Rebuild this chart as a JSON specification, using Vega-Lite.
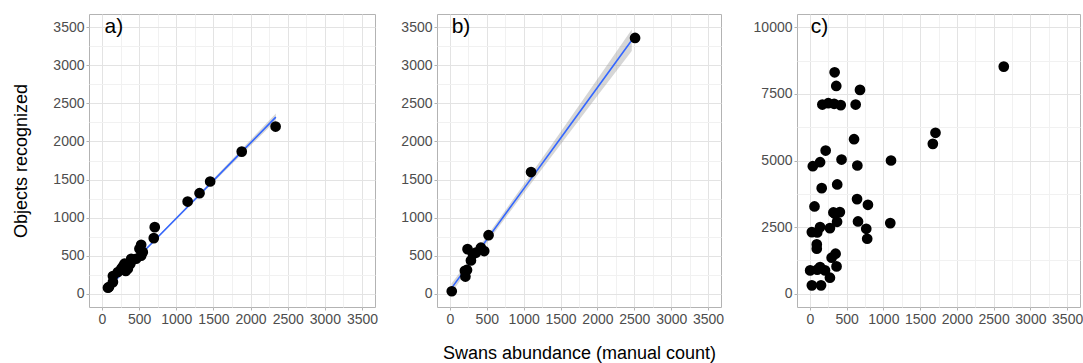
{
 "$schema": "https://vega.github.io/schema/vega-lite/v6.json",
 "padding": {"left": 12, "top": 13, "right": 0, "bottom": 0},
 "config": {
   "font": "Liberation Sans",
   "view": {"stroke": "#B3B3B3", "strokeWidth": 1},
   "axis": {"labelColor": "#4D4D4D", "labelFontSize": 14, "titleFontSize": 18, "titleFontWeight": "normal", "titleColor": "#000000", "domain": false, "tickColor": "#B3B3B3", "tickSize": 3, "labelPadding": 2, "gridColor": "#E3E3E3", "gridWidth": 1, "labelFlush": false, "labelOverlap": false, "format": "d"}
 },
 "datasets": {
   "a_pts": [
     {"x": 80, "y": 79}, {"x": 94, "y": 87}, {"x": 147, "y": 152}, {"x": 147, "y": 231}, {"x": 214, "y": 284},
     {"x": 259, "y": 328}, {"x": 281, "y": 358}, {"x": 303, "y": 394}, {"x": 348, "y": 328}, {"x": 320, "y": 300},
     {"x": 380, "y": 390}, {"x": 393, "y": 459}, {"x": 415, "y": 446}, {"x": 460, "y": 459}, {"x": 504, "y": 590},
     {"x": 527, "y": 500}, {"x": 549, "y": 546}, {"x": 527, "y": 643}, {"x": 697, "y": 730}, {"x": 710, "y": 874},
     {"x": 1153, "y": 1211}, {"x": 1313, "y": 1320}, {"x": 1456, "y": 1474}, {"x": 1881, "y": 1867}, {"x": 2337, "y": 2196}
   ],
   "a_fit": [
     {"x": 75, "fit": 72, "lo": 50, "hi": 94},
     {"x": 600, "fit": 593, "lo": 579, "hi": 607},
     {"x": 1200, "fit": 1189, "lo": 1172, "hi": 1206},
     {"x": 1800, "fit": 1784, "lo": 1752, "hi": 1816},
     {"x": 2340, "fit": 2320, "lo": 2272, "hi": 2368}
   ],
   "b_pts": [
     {"x": 25, "y": 32}, {"x": 210, "y": 225}, {"x": 203, "y": 300}, {"x": 232, "y": 312}, {"x": 239, "y": 585},
     {"x": 285, "y": 437}, {"x": 312, "y": 520}, {"x": 353, "y": 540}, {"x": 420, "y": 604}, {"x": 465, "y": 560},
     {"x": 524, "y": 768}, {"x": 1100, "y": 1598}, {"x": 2510, "y": 3360}
   ],
   "b_fit": [
     {"x": 20, "fit": 70, "lo": 10, "hi": 130},
     {"x": 500, "fit": 710, "lo": 665, "hi": 755},
     {"x": 1000, "fit": 1377, "lo": 1320, "hi": 1434},
     {"x": 1500, "fit": 2043, "lo": 1960, "hi": 2126},
     {"x": 2000, "fit": 2710, "lo": 2600, "hi": 2820},
     {"x": 2465, "fit": 3330, "lo": 3190, "hi": 3470}
   ],
   "c_pts": [
     {"x": 337, "y": 8312}, {"x": 359, "y": 7800}, {"x": 682, "y": 7650}, {"x": 170, "y": 7100}, {"x": 250, "y": 7150},
     {"x": 330, "y": 7130}, {"x": 420, "y": 7080}, {"x": 623, "y": 7100}, {"x": 601, "y": 5800}, {"x": 215, "y": 5375},
     {"x": 431, "y": 5037}, {"x": 646, "y": 4812}, {"x": 139, "y": 4937}, {"x": 40, "y": 4786}, {"x": 1104, "y": 5000},
     {"x": 372, "y": 4100}, {"x": 161, "y": 3962}, {"x": 63, "y": 3275}, {"x": 642, "y": 3550}, {"x": 790, "y": 3338},
     {"x": 408, "y": 3062}, {"x": 341, "y": 3000}, {"x": 320, "y": 3050}, {"x": 370, "y": 2700}, {"x": 655, "y": 2712},
     {"x": 767, "y": 2437}, {"x": 780, "y": 2062}, {"x": 1094, "y": 2650}, {"x": 27, "y": 2312}, {"x": 139, "y": 2500},
     {"x": 100, "y": 2300}, {"x": 273, "y": 2462}, {"x": 94, "y": 1850}, {"x": 94, "y": 1687}, {"x": 350, "y": 1500},
     {"x": 296, "y": 1350}, {"x": 363, "y": 1025}, {"x": 4, "y": 875}, {"x": 139, "y": 1000}, {"x": 206, "y": 875},
     {"x": 100, "y": 900}, {"x": 273, "y": 600}, {"x": 27, "y": 312}, {"x": 152, "y": 312}, {"x": 1673, "y": 5625},
     {"x": 1709, "y": 6040}, {"x": 2638, "y": 8525}
   ]
 },
 "spacing": 21,
 "hconcat": [
  {
   "width": 286, "height": 293,
   "layer": [
    {"data": {"name": "a_pts"}, "mark": {"type": "point", "opacity": 0},
     "encoding": {
      "x": {"field": "x", "type": "quantitative", "scale": {"domain": [-175, 3675], "nice": false, "zero": false}, "axis": {"orient": "top", "values": [250, 750, 1250, 1750, 2250, 2750, 3250], "grid": true, "gridColor": "#F1F1F1", "labels": false, "ticks": false, "title": null}},
      "y": {"field": "y", "type": "quantitative", "scale": {"domain": [-175, 3675], "nice": false, "zero": false}, "axis": {"orient": "right", "values": [250, 750, 1250, 1750, 2250, 2750, 3250], "grid": true, "gridColor": "#F1F1F1", "labels": false, "ticks": false, "title": null}}
     }},
    {"data": {"name": "a_fit"}, "mark": {"type": "area", "color": "#999999", "opacity": 0.4},
     "encoding": {
      "x": {"field": "x", "type": "quantitative", "scale": {"domain": [-175, 3675], "nice": false, "zero": false}, "axis": null},
      "y": {"field": "lo", "type": "quantitative", "scale": {"domain": [-175, 3675], "nice": false, "zero": false}, "axis": null},
      "y2": {"field": "hi"}
     }},
    {"data": {"name": "a_fit"}, "mark": {"type": "line", "color": "#3366FF", "strokeWidth": 1.6},
     "encoding": {
      "x": {"field": "x", "type": "quantitative", "scale": {"domain": [-175, 3675], "nice": false, "zero": false}, "axis": null},
      "y": {"field": "fit", "type": "quantitative", "scale": {"domain": [-175, 3675], "nice": false, "zero": false}, "axis": null}
     }},
    {"data": {"name": "a_pts"}, "mark": {"type": "circle", "color": "#000000", "opacity": 1, "size": 115},
     "encoding": {
      "x": {"field": "x", "type": "quantitative", "scale": {"domain": [-175, 3675], "nice": false, "zero": false}, "axis": {"orient": "bottom", "values": [0, 500, 1000, 1500, 2000, 2500, 3000, 3500], "grid": true, "title": null}},
      "y": {"field": "y", "type": "quantitative", "scale": {"domain": [-175, 3675], "nice": false, "zero": false}, "axis": {"orient": "left", "values": [0, 500, 1000, 1500, 2000, 2500, 3000, 3500], "grid": true, "title": "Objects recognized", "titlePadding": 22}}
     }},
    {"data": {"values": [{"lab": "a)"}]}, "mark": {"type": "text", "fontSize": 21, "align": "center", "baseline": "middle", "color": "#000000"},
     "encoding": {
      "x": {"datum": 160, "type": "quantitative", "axis": null},
      "y": {"datum": 3500, "type": "quantitative", "axis": null},
      "text": {"field": "lab"}
     }}
   ],
   "resolve": {"axis": {"x": "independent", "y": "independent"}}
  },
  {
   "spacing": 27,
   "hconcat": [
    {
     "width": 284, "height": 293,
     "layer": [
      {"data": {"name": "b_pts"}, "mark": {"type": "point", "opacity": 0},
       "encoding": {
        "x": {"field": "x", "type": "quantitative", "scale": {"domain": [-175, 3675], "nice": false, "zero": false}, "axis": {"orient": "top", "values": [250, 750, 1250, 1750, 2250, 2750, 3250], "grid": true, "gridColor": "#F1F1F1", "labels": false, "ticks": false, "title": null}},
        "y": {"field": "y", "type": "quantitative", "scale": {"domain": [-175, 3675], "nice": false, "zero": false}, "axis": {"orient": "right", "values": [250, 750, 1250, 1750, 2250, 2750, 3250], "grid": true, "gridColor": "#F1F1F1", "labels": false, "ticks": false, "title": null}}
       }},
      {"data": {"name": "b_fit"}, "mark": {"type": "area", "color": "#999999", "opacity": 0.4},
       "encoding": {
        "x": {"field": "x", "type": "quantitative", "scale": {"domain": [-175, 3675], "nice": false, "zero": false}, "axis": null},
        "y": {"field": "lo", "type": "quantitative", "scale": {"domain": [-175, 3675], "nice": false, "zero": false}, "axis": null},
        "y2": {"field": "hi"}
       }},
      {"data": {"name": "b_fit"}, "mark": {"type": "line", "color": "#3366FF", "strokeWidth": 1.6},
       "encoding": {
        "x": {"field": "x", "type": "quantitative", "scale": {"domain": [-175, 3675], "nice": false, "zero": false}, "axis": null},
        "y": {"field": "fit", "type": "quantitative", "scale": {"domain": [-175, 3675], "nice": false, "zero": false}, "axis": null}
       }},
      {"data": {"name": "b_pts"}, "mark": {"type": "circle", "color": "#000000", "opacity": 1, "size": 115},
       "encoding": {
        "x": {"field": "x", "type": "quantitative", "scale": {"domain": [-175, 3675], "nice": false, "zero": false}, "axis": {"orient": "bottom", "values": [0, 500, 1000, 1500, 2000, 2500, 3000, 3500], "grid": true, "title": "Swans abundance (manual count)", "titlePadding": 18}},
        "y": {"field": "y", "type": "quantitative", "scale": {"domain": [-175, 3675], "nice": false, "zero": false}, "axis": {"orient": "left", "values": [0, 500, 1000, 1500, 2000, 2500, 3000, 3500], "grid": true, "title": null}}
       }},
      {"data": {"values": [{"lab": "b)"}]}, "mark": {"type": "text", "fontSize": 21, "align": "center", "baseline": "middle", "color": "#000000"},
       "encoding": {
        "x": {"datum": 150, "type": "quantitative", "axis": null},
        "y": {"datum": 3500, "type": "quantitative", "axis": null},
        "text": {"field": "lab"}
       }}
     ],
     "resolve": {"axis": {"x": "independent", "y": "independent"}}
    },
    {
     "width": 283, "height": 293,
     "layer": [
      {"data": {"name": "c_pts"}, "mark": {"type": "point", "opacity": 0},
       "encoding": {
        "x": {"field": "x", "type": "quantitative", "scale": {"domain": [-175, 3675], "nice": false, "zero": false}, "axis": {"orient": "top", "values": [250, 750, 1250, 1750, 2250, 2750, 3250], "grid": true, "gridColor": "#F1F1F1", "labels": false, "ticks": false, "title": null}},
        "y": {"field": "y", "type": "quantitative", "scale": {"domain": [-500, 10500], "nice": false, "zero": false}, "axis": {"orient": "right", "values": [1250, 3750, 6250, 8750], "grid": true, "gridColor": "#F1F1F1", "labels": false, "ticks": false, "title": null}}
       }},
      {"data": {"name": "c_pts"}, "mark": {"type": "circle", "color": "#000000", "opacity": 1, "size": 115},
       "encoding": {
        "x": {"field": "x", "type": "quantitative", "scale": {"domain": [-175, 3675], "nice": false, "zero": false}, "axis": {"orient": "bottom", "values": [0, 500, 1000, 1500, 2000, 2500, 3000, 3500], "grid": true, "title": null}},
        "y": {"field": "y", "type": "quantitative", "scale": {"domain": [-500, 10500], "nice": false, "zero": false}, "axis": {"orient": "left", "values": [0, 2500, 5000, 7500, 10000], "grid": true, "title": null}}
       }},
      {"data": {"values": [{"lab": "c)"}]}, "mark": {"type": "text", "fontSize": 21, "align": "center", "baseline": "middle", "color": "#000000"},
       "encoding": {
        "x": {"datum": 130, "type": "quantitative", "axis": null},
        "y": {"datum": 10000, "type": "quantitative", "axis": null},
        "text": {"field": "lab"}
       }}
     ],
     "resolve": {"axis": {"x": "independent", "y": "independent"}}
    }
   ]
  }
 ]
}
